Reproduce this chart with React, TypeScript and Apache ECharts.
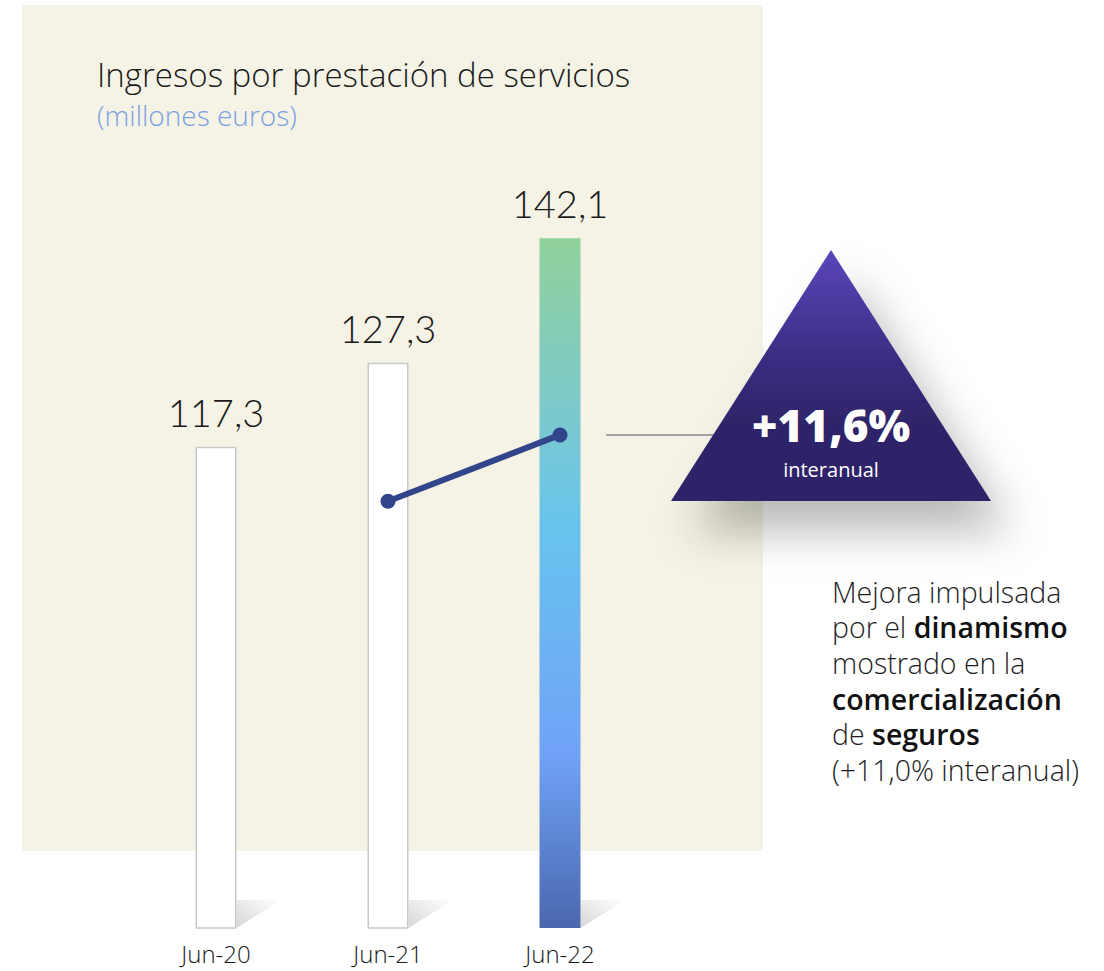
import React, { useEffect, useRef } from "react";
import * as echarts from "echarts";

const categories = ["Jun-20", "Jun-21", "Jun-22"];
const barValues = [117.3, 127.3, 142.1];
const barLabels = ["117,3", "127,3", "142,1"];
const trendValues: (number | null)[] = [null, 110.8, 118.7];
const titleText = "Ingresos por prestación de servicios";
const subtitleText = "(millones euros)";
const badgeValue = "+11,6%";
const badgeSub = "interanual";

const FONT = "'Open Sans', Lato, sans-serif";
const NUMFONT = "Lato, 'Open Sans', sans-serif";

export default function App() {
  const ref = useRef<HTMLDivElement>(null);
  useEffect(() => {
    document.body.style.margin = "0";
    const chart = echarts.init(ref.current!, null, { renderer: "svg" });
    const highlightGradient = new echarts.graphic.LinearGradient(0, 0, 0, 1, [
      { offset: 0, color: "#91d19b" },
      { offset: 0.28, color: "#78c8d2" },
      { offset: 0.42, color: "#68c4ee" },
      { offset: 0.75, color: "#70a2f7" },
      { offset: 1, color: "#4a67ad" },
    ]);
    chart.setOption({
      animation: false,
      backgroundColor: "#ffffff",
      grid: { left: 130, width: 516, top: 172, bottom: 43 },
      xAxis: {
        type: "category",
        data: categories,
        axisLine: { show: false },
        axisTick: { show: false },
        axisLabel: {
          color: "#1a1a1a",
          fontSize: 24,
          lineHeight: 24,
          fontWeight: 300,
          fontFamily: FONT,
          margin: 13,
        },
      },
      yAxis: {
        type: "value",
        min: 60,
        max: 150,
        show: false,
        splitLine: { show: false },
      },
      graphic: [
        {
          type: "rect",
          z: -10,
          silent: true,
          shape: { x: 22, y: 5, width: 741, height: 846 },
          style: { fill: "#f5f3e5" },
        },
        {
          type: "text",
          left: 97,
          top: 56,
          style: {
            text: titleText,
            fontSize: 33,
            lineHeight: 36,
            fontWeight: 300,
            fontFamily: FONT,
            fill: "#1a1a1a",
          },
        },
        {
          type: "text",
          left: 97,
          top: 100,
          style: {
            text: subtitleText,
            fontSize: 28,
            lineHeight: 30,
            fontFamily: FONT,
            fontWeight: 300,
            fill: "#7aa0e2",
          },
        },
        {
          type: "line",
          shape: { x1: 606, y1: 435, x2: 722, y2: 435 },
          style: { stroke: "#a3a3a3", lineWidth: 2 },
        },
        {
          type: "polygon",
          shape: { points: [[671, 501], [991, 501], [831, 250]] },
          style: {
            fill: new echarts.graphic.LinearGradient(0, 0, 0, 1, [
              { offset: 0, color: "#5b46bb" },
              { offset: 0.45, color: "#3a2c80" },
              { offset: 0.7, color: "#2e2467" },
              { offset: 1, color: "#2e2467" },
            ]),
            shadowBlur: 45,
            shadowOffsetX: 20,
            shadowOffsetY: 30,
            shadowColor: "rgba(0,0,0,0.28)",
          },
        },
        {
          type: "text",
          x: 831,
          y: 425,
          style: {
            text: badgeValue,
            fontSize: 44,
            lineHeight: 38,
            fontWeight: 800,
            fontFamily: FONT,
            fill: "#ffffff",
            align: "center",
            verticalAlign: "middle",
          },
        },
        {
          type: "text",
          x: 831,
          y: 469,
          style: {
            text: badgeSub,
            fontSize: 20,
            lineHeight: 20,
            fontFamily: FONT,
            fill: "#ffffff",
            align: "center",
            verticalAlign: "middle",
          },
        },
        {
          type: "text",
          x: 832,
          y: 574,
          style: {
            text:
              "{r|Mejora impulsada}\n{r|por el }{b|dinamismo}\n{r|mostrado en la}\n{b|comercialización}\n{r|de }{b|seguros}\n{r|(+11,0% interanual)}",
            rich: {
              r: { fontSize: 28.5, fontFamily: FONT, fontWeight: 300, fill: "#1e1e1e", lineHeight: 35.6 },
              b: { fontSize: 28.5, fontFamily: FONT, fontWeight: 600, fill: "#111111", lineHeight: 35.6 },
            },
          },
        },
      ],
      series: [
        {
          type: "custom",
          silent: true,
          z: 1,
          data: barValues.map((v, i) => [i, v]),
          renderItem: (params: any, api: any) => {
            const base = api.coord([api.value(0), 60]);
            const xr = base[0] + 20.5;
            const yb = base[1];
            return {
              type: "polygon",
              shape: { points: [[xr, yb], [xr, yb - 28], [xr + 45, yb - 28]] },
              style: {
                fill: new echarts.graphic.LinearGradient(0, 1, 1, 0, [
                  { offset: 0, color: "rgba(0,0,0,0.16)" },
                  { offset: 1, color: "rgba(0,0,0,0)" },
                ]),
              },
            };
          },
        },
        {
          type: "bar",
          z: 2,
          barWidth: 41,
          data: barValues.map((v, i) => ({
            value: v,
            itemStyle:
              i === barValues.length - 1
                ? { color: highlightGradient, borderWidth: 0 }
                : { color: "#ffffff", borderColor: "#c9c9c9", borderWidth: 1.5 },
          })),
          label: {
            show: true,
            position: "top",
            distance: 16,
            fontSize: 38,
            fontWeight: 300,
            fontFamily: NUMFONT,
            color: "#1a1a1a",
            formatter: (p: any) => barLabels[p.dataIndex],
          },
        },
        {
          type: "line",
          z: 3,
          data: trendValues,
          symbol: "circle",
          symbolSize: 15,
          lineStyle: { color: "#33458a", width: 6 },
          itemStyle: { color: "#33458a" },
          connectNulls: false,
        },
      ],
    });
    return () => chart.dispose();
  }, []);
  return <div ref={ref} style={{ width: 1104, height: 971 }} />;
}
